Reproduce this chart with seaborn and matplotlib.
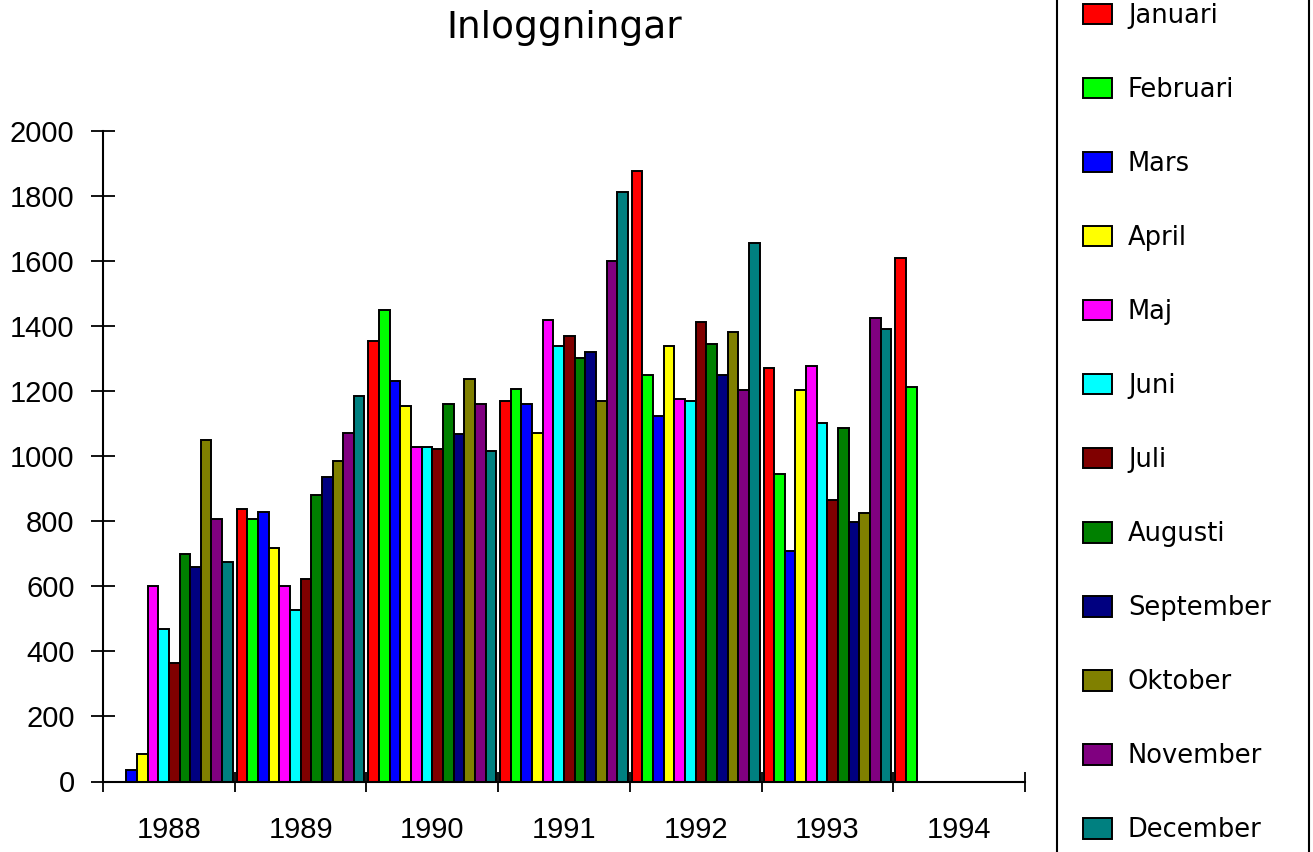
import numpy as np
import pandas as pd
import matplotlib
matplotlib.use("Agg")
import matplotlib.pyplot as plt
import seaborn as sns
from matplotlib.patches import Rectangle
from matplotlib.ticker import FixedLocator

# ============================================================================
# DATA
# ============================================================================
MONTHS = ["Januari", "Februari", "Mars", "April", "Maj", "Juni", "Juli",
          "Augusti", "September", "Oktober", "November", "December"]
YEARS = ["1988", "1989", "1990", "1991", "1992", "1993", "1994"]

nan = np.nan
v1988 = [nan, nan, 35, 85, 600, 468, 365, 698, 660, 1050, 807, 675]
v1989 = [837, 807, 830, 719, 600, 527, 623, 880, 935, 985, 1073, 1185]
v1990 = [1353, 1450, 1230, 1155, 1027, 1027, 1022, 1162, 1067, 1237, 1162, 1015]
v1991 = [1169, 1207, 1162, 1071, 1420, 1338, 1369, 1302, 1320, 1169, 1600, 1812]
v1992 = [1878, 1249, 1125, 1338, 1176, 1170, 1412, 1346, 1249, 1383, 1204, 1655]
v1993 = [1272, 946, 709, 1204, 1278, 1102, 865, 1087, 799, 827, 1425, 1391]
v1994 = [1611, 1212, nan, nan, nan, nan, nan, nan, nan, nan, nan, nan]

MONTH_COLORS = ["#ff0000", "#00ff00", "#0000ff", "#ffff00", "#ff00ff", "#00ffff",
                "#800000", "#008000", "#000080", "#808000", "#800080", "#008080"]

Y_TICKS = [0, 200, 400, 600, 800, 1000, 1200, 1400, 1600, 1800, 2000]

# ============================================================================
# LONG FORMAT TABLE
# ============================================================================
rows = []
for year, vals in zip(YEARS, [v1988, v1989, v1990, v1991, v1992, v1993, v1994]):
    for month, v in zip(MONTHS, vals):
        rows.append({"year": year, "month": month, "value": v})
df = pd.DataFrame(rows)

# ============================================================================
# PLOT
# ============================================================================
sns.set_style("white")
plt.rcParams["font.family"] = ["Liberation Sans", "DejaVu Sans"]
for key in ["text.color", "axes.labelcolor", "xtick.color", "ytick.color"]:
    plt.rcParams[key] = "black"

W, H = 1313, 852
fig = plt.figure(figsize=(W / 100, H / 100), dpi=100)
ax = fig.add_axes([103 / W, 1 - 781.5 / H, (1025 - 103) / W, (781.5 - 131) / H])

sns.barplot(data=df, x="year", y="value", hue="month", order=YEARS,
            hue_order=MONTHS, palette=MONTH_COLORS, saturation=1, width=0.97,
            errorbar=None, edgecolor="black", linewidth=1.4, ax=ax)

handles, labels = ax.get_legend_handles_labels()
if ax.get_legend() is not None:
    ax.get_legend().remove()

ax.set_xlim(-0.5, len(YEARS) - 0.5)
ax.set_ylim(0, 2000)
ax.set_xlabel("")
ax.set_ylabel("")

for side in ["top", "right"]:
    ax.spines[side].set_visible(False)
for side in ["left", "bottom"]:
    ax.spines[side].set_linewidth(1.5)
    ax.spines[side].set_color("black")

ax.set_yticks(Y_TICKS)
ax.set_yticklabels([str(t) for t in Y_TICKS])
ax.tick_params(axis="y", direction="inout", length=17, width=1.3,
               pad=12, labelsize=21, colors="black", left=True)

ax.set_xticks(range(len(YEARS)))
ax.set_xticklabels(YEARS)
ax.xaxis.set_minor_locator(FixedLocator(np.arange(-0.5, len(YEARS), 1.0)))
ax.tick_params(axis="x", which="major", length=0, pad=25, labelsize=21,
               colors="black")
ax.tick_params(axis="x", which="minor", direction="inout", length=14,
               width=1.3, bottom=True, color="black")

fig.text((103 + 1025) / 2 / W, 1 - 28 / H, "Inloggningar", ha="center",
         va="center", fontsize=27, family="DejaVu Sans", color="black")

# legend box runs past the top and bottom of the picture
fig.patches.append(Rectangle((1057 / W, -0.02), (1309 - 1057) / W, 1.04,
                             transform=fig.transFigure, fill=False,
                             edgecolor="black", linewidth=1.5))
leg = fig.legend(handles, labels, loc="center left",
                 bbox_to_anchor=(1083 / W, 1 - 423 / H), frameon=False,
                 borderpad=0, borderaxespad=0, handlelength=1.13,
                 handleheight=0.86, handletextpad=0.62, labelspacing=1.87,
                 prop={"family": "DejaVu Sans", "size": 18.5})
for t in leg.get_texts():
    t.set_color("black")

fig.savefig("out.png", dpi=100)
